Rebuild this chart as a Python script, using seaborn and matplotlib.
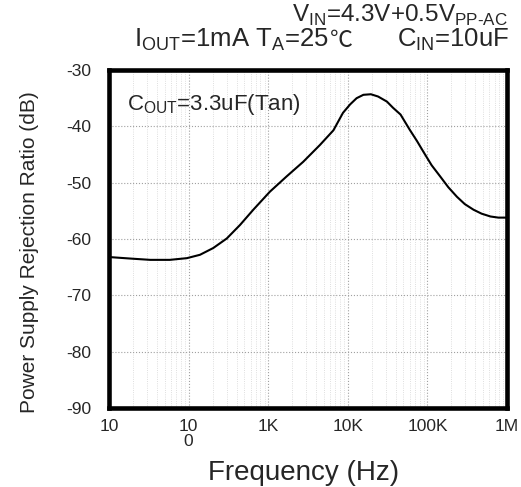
import numpy as np
import pandas as pd
import seaborn as sns
import matplotlib
matplotlib.use("Agg")
import matplotlib.pyplot as plt

# values
freq_hz = [10, 20, 33, 58, 95, 139, 204, 302, 443, 650, 1050, 1700, 2750, 4470,
           6600, 8700, 10700, 12900, 15700, 19500, 24000, 31000, 37000, 46000,
           60000, 74000, 89000, 113000, 145000, 183000, 235000, 295000, 380000,
           480000, 620000, 780000, 1000000]
psrr_db = [-63.2, -63.5, -63.7, -63.7, -63.4, -62.8, -61.6, -59.9, -57.5, -54.8,
           -51.6, -48.9, -46.3, -43.3, -40.7, -37.6, -36.1, -35.0, -34.4, -34.3,
           -34.7, -35.6, -36.7, -37.9, -40.6, -42.6, -44.5, -46.9, -48.9, -50.8,
           -52.5, -53.8, -54.8, -55.5, -56.0, -56.2, -56.2]

x_ticks = [10, 100, 1000, 10000, 100000, 1000000]
x_labels = ["10", "10\n0", "1K", "10K", "100K", "1M"]
y_ticks = [-90, -80, -70, -60, -50, -40, -30]
y_labels = ["-90", "-80", "-70", "-60", "-50", "-40", "-30"]

df = pd.DataFrame({"freq": freq_hz, "psrr": psrr_db})

sns.set_theme(style="white")
plt.rcParams["font.family"] = ["Liberation Sans", "DejaVu Sans"]
plt.rcParams["mathtext.fontset"] = "custom"
plt.rcParams["mathtext.rm"] = "Liberation Sans"

fig = plt.figure(figsize=(5.21, 4.87), dpi=100)
ax = fig.add_axes([0.2092, 0.1622, 0.7639, 0.694])

sns.lineplot(data=df, x="freq", y="psrr", color="black", linewidth=1.5, ax=ax,
             errorbar=None)
ax.set_xscale("log")
ax.set_xlim(10, 1e6)
ax.set_ylim(-90, -30)

ax.set_xticks(x_ticks)
ax.set_xticklabels(x_labels, fontsize=12.5, linespacing=1.0)
ax.set_yticks(y_ticks)
ax.set_yticklabels(y_labels, fontsize=12.5)
ax.tick_params(axis="both", length=0)
ax.tick_params(axis="x", pad=8)
ax.tick_params(axis="y", pad=13)

# dotted grid, minor lines only on the frequency axis
ax.grid(True, which="major", linestyle=":", color="#a0a0a0", linewidth=0.8)
ax.grid(True, which="minor", axis="x", linestyle=":", color="#d4d4d4", linewidth=0.6)
ax.tick_params(axis="x", which="minor", length=0)

for sp in ax.spines.values():
    sp.set_linewidth(3.3)
    sp.set_color("black")

ax.set_xlabel("Frequency (Hz)", fontsize=20)
ax.set_ylabel("Power Supply Rejection Ratio (dB)", fontsize=15)
ax.xaxis.set_label_coords(0.49, -0.155)
ax.yaxis.set_label_coords(-0.175, 0.46)

ax.text(0.045, 0.882, r"C$_\mathregular{OUT}$=3.3uF(Tan)", transform=ax.transAxes,
        fontsize=16, ha="left", va="baseline")

# header lines, the celsius sign comes from a CJK font since Liberation lacks it
fig.text(0.975, 0.956, r"V$_\mathregular{IN}$=4.3V+0.5V$_\mathregular{PP\text{-}AC}$",
         fontsize=17.5, ha="right", va="baseline")
t_left = fig.text(0.257, 0.904, r"I$_\mathregular{OUT}$=1mA T$_\mathregular{A}$=25",
                  fontsize=18.5, ha="left", va="baseline")
fig.text(0.977, 0.904, r"C$_\mathregular{IN}$=10uF",
         fontsize=18.5, ha="right", va="baseline")
fig.canvas.draw()
bb = t_left.get_window_extent()
fig.text(bb.x1 / fig.bbox.width + 0.003, 0.904, "\u2103", fontsize=16.5,
         family=["Noto Sans CJK JP", "DejaVu Sans"], ha="left", va="baseline")

fig.savefig("out.png", dpi=100)
